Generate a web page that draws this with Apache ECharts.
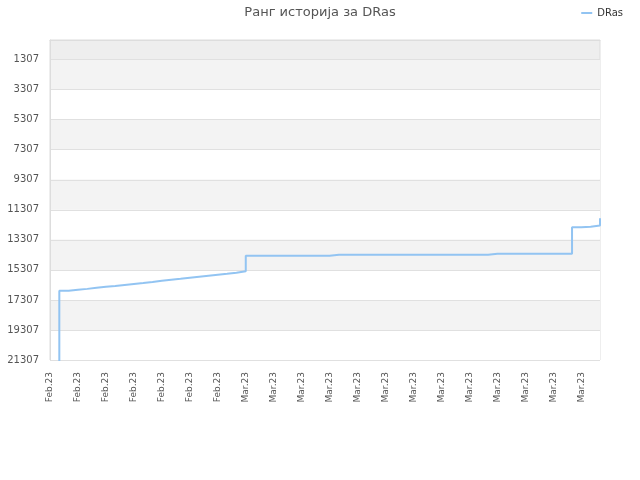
<!DOCTYPE html>
<html>
<head>
<meta charset="utf-8">
<script src="https://cdn.jsdelivr.net/npm/echarts@6/dist/echarts.min.js"></script>
<style>html,body{margin:0;padding:0;background:#fff;}#c{width:640px;height:480px;}</style>
</head>
<body>
<div id="c"></div>
<script>
var titleText = 'Ранг историја за DRas';
var seriesName = 'DRas';
var febCount = 21;
var marCount = 39;
var categories = [];
for (var i = 0; i < febCount; i++) categories.push('Feb.23');
for (var j = 0; j < marCount; j++) categories.push('Mar.23');

var yTicks = [1307, 3307, 5307, 7307, 9307, 11307, 13307, 15307, 17307, 19307, 21307];
var yMin = 0;
var yMax = 21307;

var rankValues = [
  22307,
  16693, 16626, 16571, 16493, 16426, 16380, 16313, 16246, 16180, 16113,
  16027, 15960, 15894, 15827, 15760, 15694, 15627, 15561, 15494, 15401,
  14362, 14362, 14362, 14362, 14362, 14362, 14362, 14362, 14362,
  14296, 14296, 14296, 14296, 14296, 14296, 14296, 14296, 14296, 14296,
  14296, 14296, 14296, 14296, 14296, 14296, 14296,
  14229, 14229, 14229, 14229, 14229, 14229, 14229, 14229, 14229,
  12465, 12431, 12351, 11872
];

var chart = echarts.init(document.getElementById('c'), null, {renderer: 'canvas'});
var font = 'DejaVu Sans';
chart.setOption({
  animation: false,
  title: {
    text: titleText,
    left: 'center',
    top: 1,
    textStyle: {fontFamily: font, fontSize: 13, fontWeight: 'normal', color: '#555555'}
  },
  legend: {
    data: [seriesName],
    right: 12,
    top: 3,
    icon: 'rect',
    itemWidth: 11,
    itemHeight: 2,
    itemGap: 6,
    textStyle: {fontFamily: font, fontSize: 10, color: '#333333'}
  },
  grid: {
    left: 50, right: 40, top: 40, bottom: 120,
    show: true,
    backgroundColor: '#eeeeee',
    borderColor: '#dddddd',
    borderWidth: 1,
    containLabel: false
  },
  xAxis: {
    type: 'category',
    data: categories,
    boundaryGap: false,
    axisLine: {lineStyle: {color: '#dddddd'}},
    axisTick: {show: false},
    splitLine: {show: false},
    axisLabel: {
      interval: 2,
      rotate: 90,
      margin: 12,
      fontFamily: font,
      fontSize: 9,
      color: '#555555'
    }
  },
  yAxis: {
    type: 'value',
    inverse: true,
    min: yMin,
    max: yMax,
    axisLine: {show: true, lineStyle: {color: '#dddddd'}},
    axisTick: {show: false, customValues: yTicks},
    axisLabel: {
      customValues: yTicks,
      margin: 11,
      fontFamily: font,
      fontSize: 10,
      color: '#555555',
      formatter: function (v) { return String(v); }
    },
    splitLine: {show: true, lineStyle: {color: '#e0e0e0', width: 1}},
    splitArea: {show: true, areaStyle: {color: ['#f3f3f3', '#ffffff']}}
  },
  series: [{
    name: seriesName,
    type: 'line',
    step: 'end',
    data: rankValues,
    showSymbol: false,
    symbol: 'none',
    clip: true,
    lineStyle: {color: '#92c4f2', width: 2},
    itemStyle: {color: '#92c4f2'}
  }]
});
</script>
</body>
</html>
